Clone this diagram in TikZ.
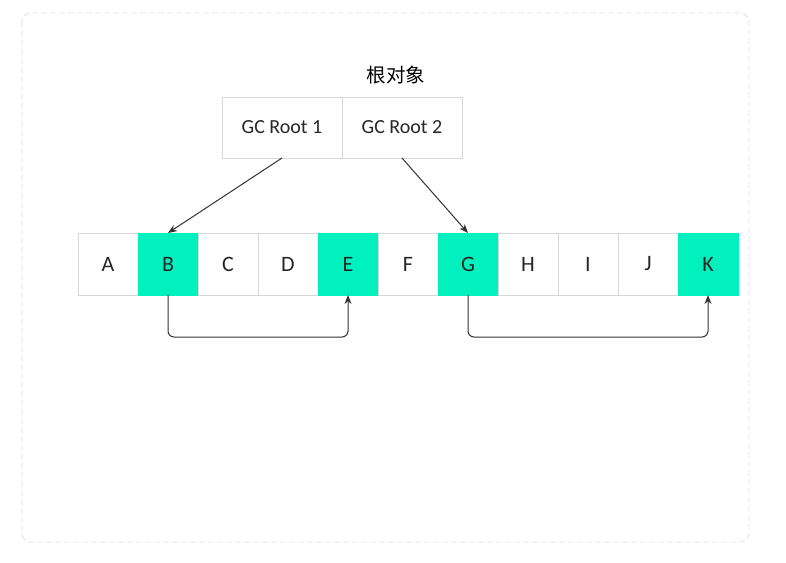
\documentclass[tikz,border=0pt]{standalone}
\usepackage{fontspec}
\setmainfont{Carlito}
\newfontfamily\cjk{Noto Sans CJK SC}
\usetikzlibrary{arrows.meta}
\definecolor{gcgreen}{RGB}{0,240,190}
\definecolor{cellline}{RGB}{215,215,215}
\definecolor{linkline}{RGB}{50,50,50}

\begin{document}
\begin{tikzpicture}[x=1pt,y=-1pt,
  cell/.style={draw=cellline,line width=0.8pt,minimum width=60pt,minimum height=62pt,inner sep=0pt,outer sep=0pt,font=\fontsize{22}{26}\selectfont,text=black!85},
  live/.style={cell,fill=gcgreen,draw=gcgreen},
  root/.style={cell,minimum width=120pt,minimum height=61pt,font=\fontsize{20}{24}\selectfont},
  link/.style={draw=linkline,line width=1pt,-{Stealth[length=9pt,width=7pt]}}]
\useasboundingbox (0,0) rectangle (786,562);
\draw [cellline!80,dashed,dash pattern=on 6pt off 3pt,rounded corners=9pt,line width=0.8pt] (22,13) rectangle (749,542);
\node (label) at (396,75) {\cjk\fontsize{19.5}{22}\selectfont 根对象};
\node [root] (R1) at (282,127.5) {GC Root 1};
\node [root] (R2) at (402,127.5) {GC Root 2};
\node [cell] (A) at (108,264) {A};
\node [live] (B) at (168,264) {B};
\node [cell] (C) at (228,264) {C};
\node [cell] (D) at (288,264) {D};
\node [live] (E) at (348,264) {E};
\node [cell] (F) at (408,264) {F};
\node [live] (G) at (468,264) {G};
\node [cell] (H) at (528,264) {H};
\node [cell] (I) at (588,264) {I};
\node [cell] (J) at (648,264) {J};
\node [live] (K) at (708,264) {K};
\draw [link] (R1.south) -- (B.north);
\draw [link] (R2.south) -- (G.north);
\draw [link,rounded corners=6pt] (B.south) -- ++(0,42) -| (E.south);
\draw [link,rounded corners=6pt] (G.south) -- ++(0,42) -| (K.south);
\end{tikzpicture}
\end{document}
